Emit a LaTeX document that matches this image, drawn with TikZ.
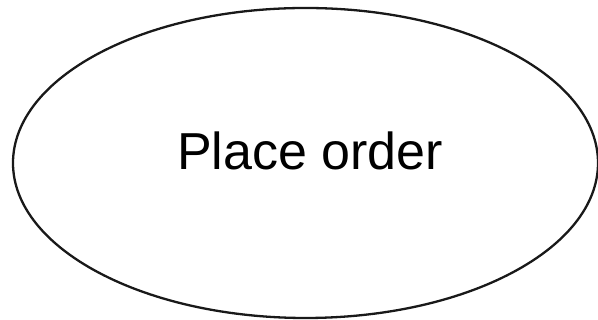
\documentclass[tikz,border=0pt]{standalone}
\usepackage{fontspec}
\setmainfont{Liberation Sans}
\usetikzlibrary{shapes.geometric}
\begin{document}
\begin{tikzpicture}[x=1pt,y=1pt,
  usecase/.style={draw=black!90, line width=2.3pt, ellipse, minimum width=585pt, minimum height=310pt, inner sep=0pt},
  lbl/.style={font=\fontsize{52}{60}\selectfont}]
\useasboundingbox (0,0) rectangle (598,320);
\node[usecase] (uc) at (305.5,157) {};
\node[lbl, anchor=base] (t) at (310,150) {Place order};
\end{tikzpicture}
\end{document}
